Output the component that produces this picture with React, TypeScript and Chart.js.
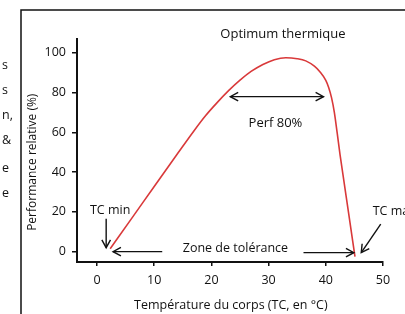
import React, { useEffect, useRef } from "react";
import { Chart, registerables } from "chart.js";

Chart.register(...registerables);

// Body temperature (°C) and relative performance (%)
const temperatures = [2.3, 6, 10, 14, 17, 19, 21, 23, 25, 27, 29, 31, 33, 35, 36.5, 38, 39, 40, 40.5, 41, 41.5, 42, 42.5, 43, 44, 45.1];
const performance = [1.5, 16.5, 32.8, 49, 61, 68.5, 75, 81, 86.3, 90.8, 94.2, 96.6, 97.6, 97.1, 96, 93.3, 90.4, 86.2, 82.6, 77.5, 70, 59.5, 48.6, 38.8, 19.1, -2.5];

const xTicks = [0, 10, 20, 30, 40, 50];
const yTicks = [0, 20, 40, 60, 80, 100];

const yTitle = "Performance relative (%)";
const xTitle = "Température du corps (TC, en °C)";
const sideFragments = ["s", "s", "n,", "&", "e", "e"];

const FONT = "'Open Sans', 'Noto Sans', sans-serif";
const INK = "#111111";

function arrowHead(ctx: CanvasRenderingContext2D, fx: number, fy: number, tx: number, ty: number, len = 9) {
  const a = Math.atan2(ty - fy, tx - fx);
  const spread = 0.5;
  ctx.beginPath();
  ctx.moveTo(tx - len * Math.cos(a - spread), ty - len * Math.sin(a - spread));
  ctx.lineTo(tx, ty);
  ctx.lineTo(tx - len * Math.cos(a + spread), ty - len * Math.sin(a + spread));
  ctx.stroke();
}

function arrow(ctx: CanvasRenderingContext2D, fx: number, fy: number, tx: number, ty: number, both = false) {
  ctx.beginPath();
  ctx.moveTo(fx, fy);
  ctx.lineTo(tx, ty);
  ctx.stroke();
  arrowHead(ctx, fx, fy, tx, ty);
  if (both) arrowHead(ctx, tx, ty, fx, fy);
}

const annotationPlugin = {
  id: "annotations",
  beforeDraw(chart: any) {
    const ctx = chart.ctx as CanvasRenderingContext2D;
    ctx.save();
    ctx.fillStyle = "#ffffff";
    ctx.fillRect(0, 0, chart.width, chart.height);
    // page frame
    ctx.strokeStyle = "#111";
    ctx.lineWidth = 1.5;
    ctx.beginPath();
    ctx.moveTo(21, chart.height);
    ctx.lineTo(21, 10);
    ctx.lineTo(chart.width, 10);
    ctx.stroke();
    // cut-off text from the neighbouring column
    ctx.fillStyle = INK;
    ctx.font = `12.5px ${FONT}`;
    ctx.textAlign = "left";
    ctx.textBaseline = "middle";
    sideFragments.forEach((t, i) => {
      const yy = [65, 90, 115, 140, 168, 193][i];
      ctx.fillText(t, 2, yy);
    });
    ctx.restore();
  },
  afterDraw(chart: any) {
    const ctx = chart.ctx as CanvasRenderingContext2D;
    const xs = chart.scales.x;
    const ys = chart.scales.y;
    const px = (v: number) => xs.getPixelForValue(v);
    const py = (v: number) => ys.getPixelForValue(v);
    const area = chart.chartArea;
    ctx.save();
    ctx.fillStyle = INK;
    ctx.strokeStyle = INK;
    ctx.lineWidth = 1.4;
    ctx.textAlign = "center";
    ctx.textBaseline = "middle";

    ctx.font = `13px ${FONT}`;
    ctx.fillText("Optimum thermique", px(32.5), py(109.3));
    ctx.fillText("Perf 80%", px(31.2), py(64.4));
    arrow(ctx, px(23.3), py(78), px(39.6), py(78), true);

    ctx.font = `12.5px ${FONT}`;
    ctx.fillText("Zone de tolérance", px(24.2), py(1.5));
    arrow(ctx, px(11.4), py(0), px(2.8), py(0));
    arrow(ctx, px(36.1), py(-0.5), px(44.9), py(-0.5));

    ctx.fillText("TC min", px(2.3), py(20.6));
    arrow(ctx, px(1.6), py(16.5), px(1.6), py(2));

    ctx.textAlign = "left";
    ctx.fillText("TC ma", px(48.2), py(20.1));
    arrow(ctx, px(49.6), py(13.9), px(46.2), py(-0.5));

    // axis titles
    ctx.textAlign = "center";
    ctx.font = `12.5px ${FONT}`;
    ctx.fillText(xTitle, px(23.4), area.bottom + 43);
    ctx.save();
    ctx.translate(area.left - 44, py(45));
    ctx.rotate(-Math.PI / 2);
    ctx.font = `12px ${FONT}`;
    ctx.fillText(yTitle, 0, 0);
    ctx.restore();

    ctx.restore();
  },
};

export default function App() {
  const ref = useRef<HTMLCanvasElement | null>(null);

  useEffect(() => {
    if (!ref.current) return;
    const chart = new Chart(ref.current, {
      type: "line",
      data: {
        datasets: [
          {
            data: temperatures.map((t, i) => ({ x: t, y: performance[i] })),
            borderColor: "#d9393a",
            borderWidth: 1.6,
            pointRadius: 0,
            fill: false,
            cubicInterpolationMode: "monotone",
          },
        ],
      },
      options: {
        responsive: false,
        animation: false,
        layout: { padding: { left: 0, right: 22, top: 39, bottom: 0 } },
        plugins: {
          legend: { display: false },
          tooltip: { enabled: false },
          title: { display: false },
        },
        scales: {
          x: {
            type: "linear",
            min: -3.5,
            max: 50,
            afterFit: (s: any) => {
              s.height = 52;
            },
            afterBuildTicks: (s: any) => {
              s.ticks = xTicks.map((v) => ({ value: v }));
            },
            grid: { drawOnChartArea: false, drawTicks: true, tickLength: 4, color: INK, lineWidth: 1.5 },
            border: { display: true, color: INK, width: 2 },
            ticks: { color: INK, font: { family: FONT, size: 12.5 }, padding: 7, maxRotation: 0 },
          },
          y: {
            type: "linear",
            min: -5.2,
            max: 107,
            afterFit: (s: any) => {
              s.width = 77;
            },
            afterBuildTicks: (s: any) => {
              s.ticks = yTicks.map((v) => ({ value: v }));
            },
            grid: { drawOnChartArea: false, drawTicks: true, tickLength: 5, color: INK, lineWidth: 1.5 },
            border: { display: true, color: INK, width: 2 },
            ticks: { color: INK, font: { family: FONT, size: 12.5 }, padding: 6 },
          },
        },
      },
      plugins: [annotationPlugin],
    });
    return () => chart.destroy();
  }, []);

  return (
    <div style={{ position: "fixed", left: 0, top: 0, width: 405, height: 314, background: "#fff" }}>
      <canvas ref={ref} width={405} height={314} style={{ display: "block", width: 405, height: 314 }} />
    </div>
  );
}
